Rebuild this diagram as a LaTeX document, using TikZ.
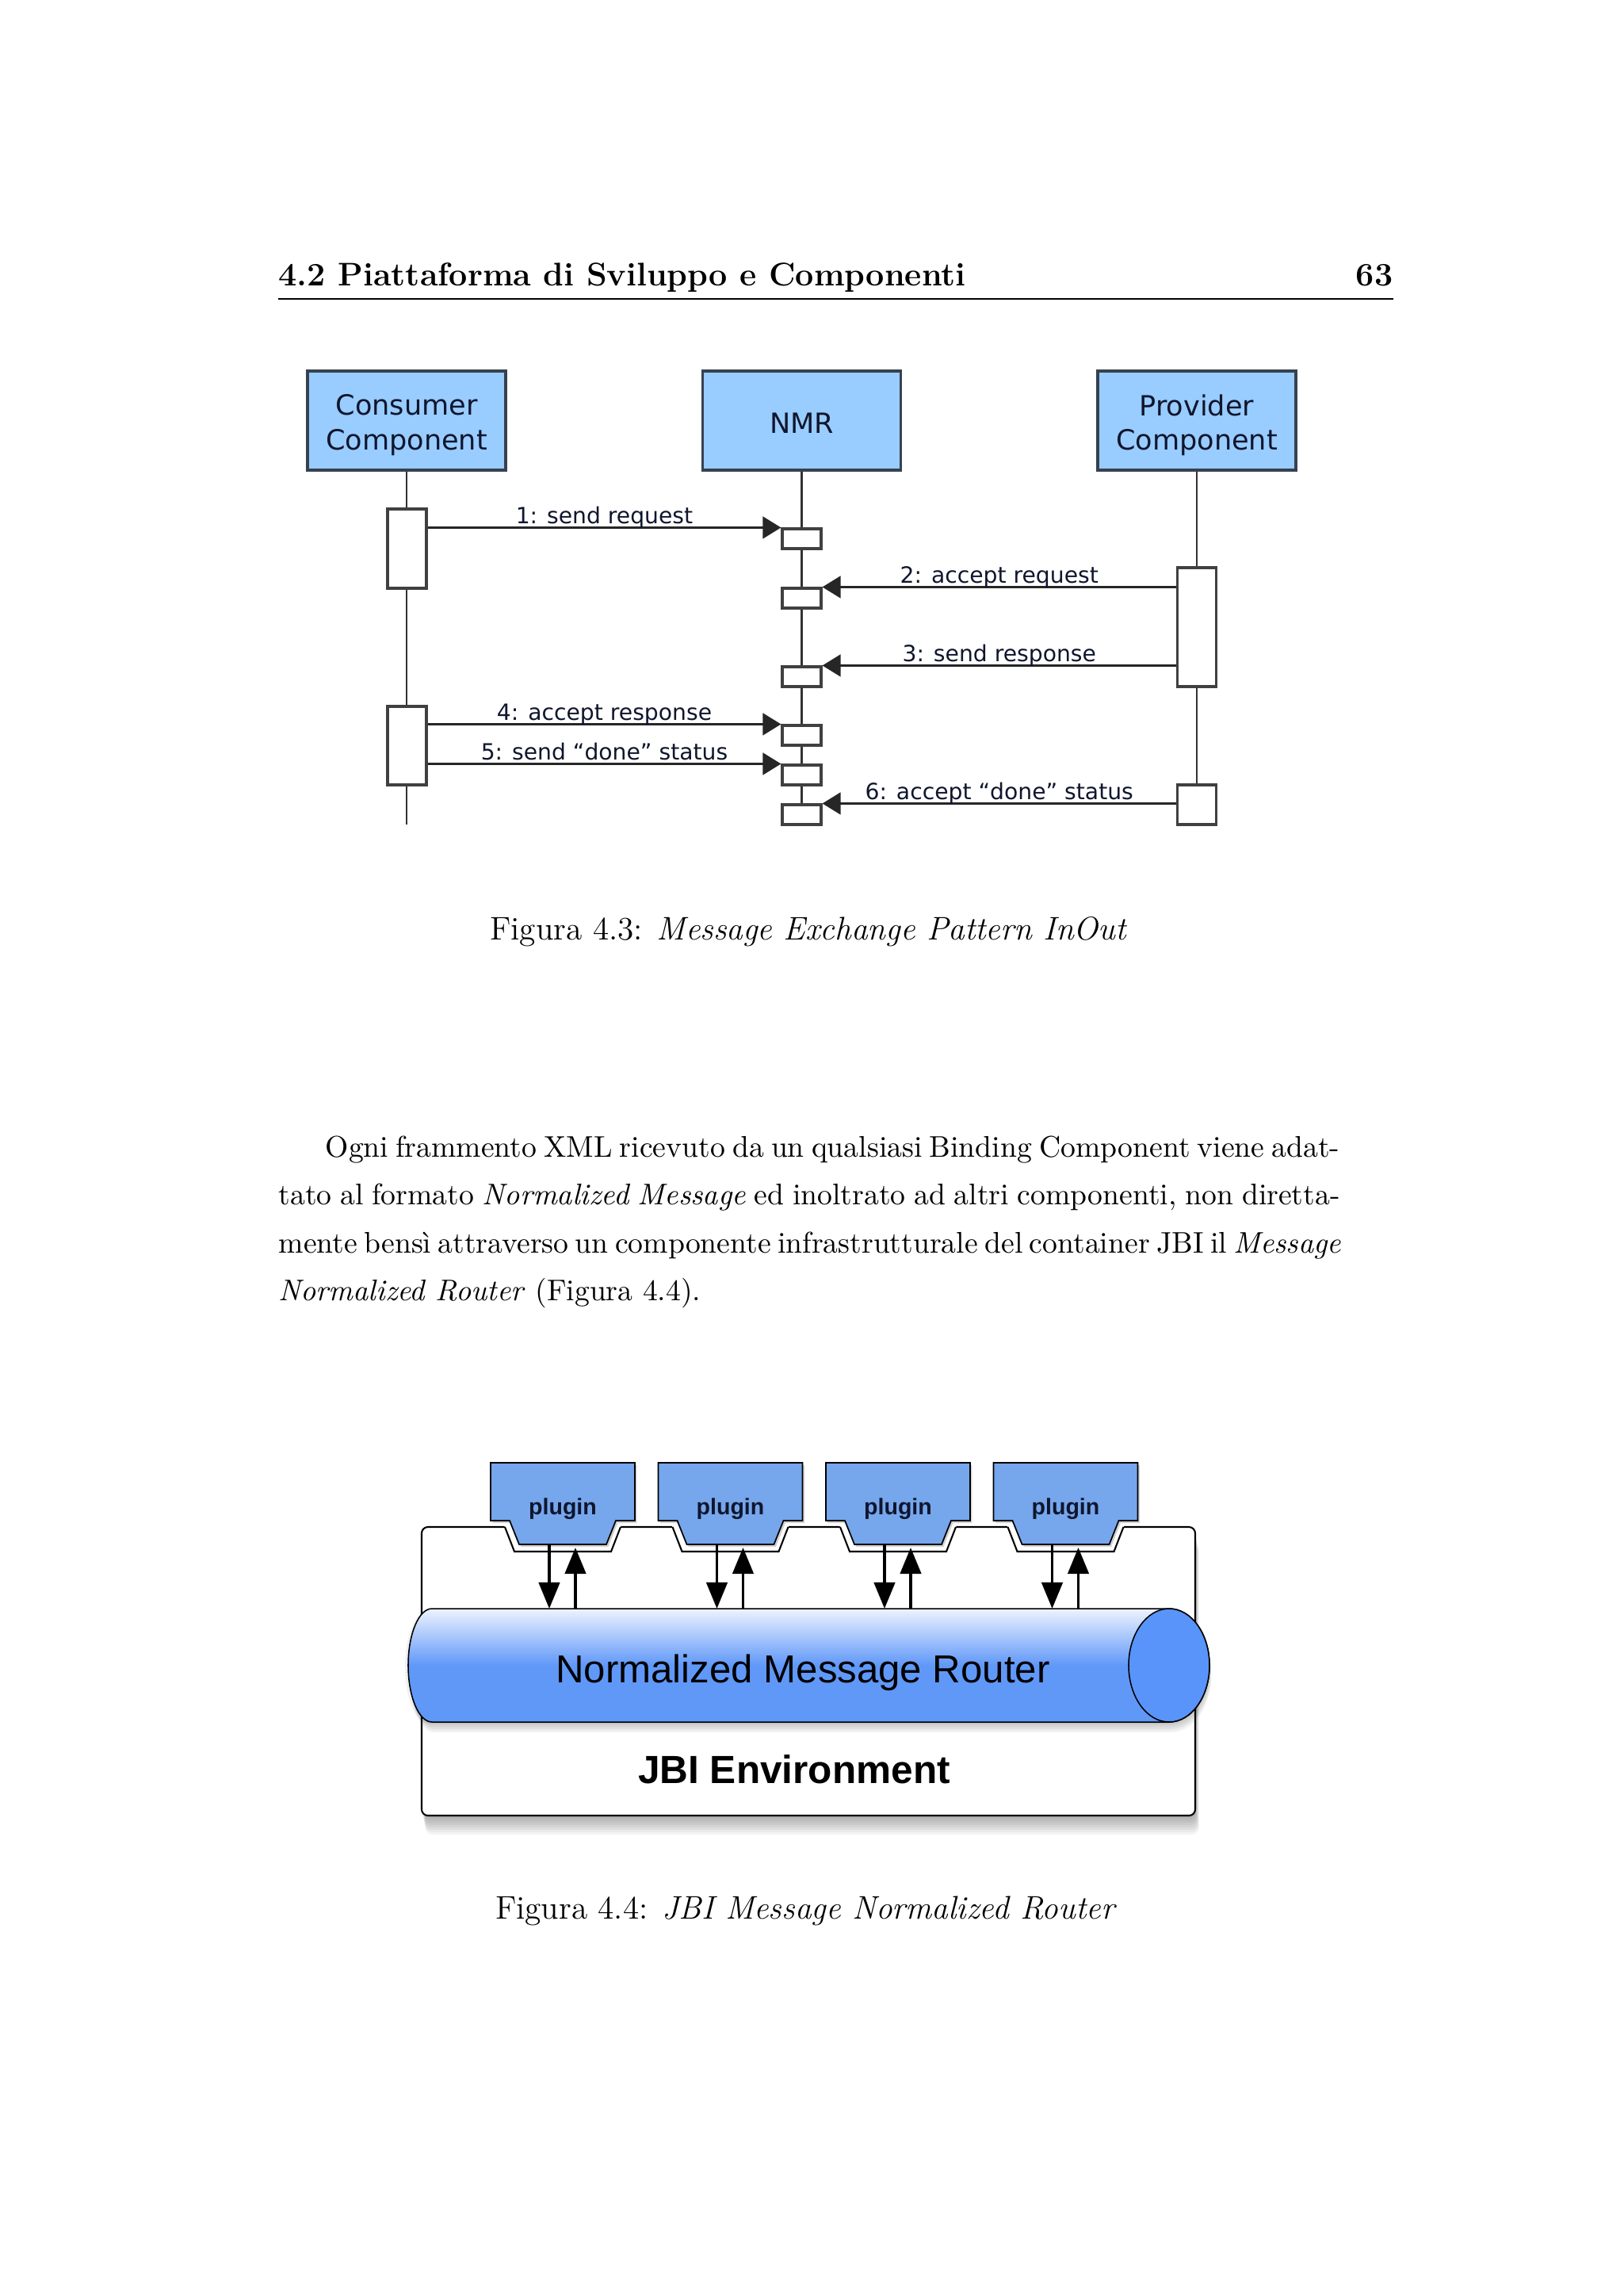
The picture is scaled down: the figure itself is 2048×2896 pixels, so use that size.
\documentclass[tikz,border=0pt]{standalone}
\usepackage{fontspec}
\newfontfamily\verd{DejaVu Sans}
\newfontfamily\helv{Liberation Sans}
\usetikzlibrary{arrows.meta,shadows,fit}
\definecolor{hdrblue}{RGB}{153,204,255}
\definecolor{hdrline}{RGB}{55,65,80}
\definecolor{txtnavy}{RGB}{15,22,45}
\definecolor{plugblue}{RGB}{118,166,236}
\definecolor{nmrblue}{RGB}{96,152,248}
\definecolor{nmrlight}{RGB}{238,243,255}
\definecolor{endblue}{RGB}{88,148,250}
\newcommand\hdrfont{\verd\fontsize{10.2}{12.6}\selectfont}
\newcommand\lblfont{\verd\fontsize{8.2}{10}\selectfont}
\newcommand\bodyfont{\fontsize{10.95}{13.6}\selectfont}
\newcommand\capfont{\fontsize{12}{14.5}\selectfont}
\begin{document}
\begin{tikzpicture}[x=0.29066pt,y=-0.29066pt,
  hdrbox/.style={draw=hdrline, line width=0.9pt, fill=hdrblue, inner sep=0pt},
  hdrtxt/.style={text=txtnavy, font=\hdrfont, align=center, inner sep=0pt},
  actbox/.style={draw=black!75, line width=0.9pt, fill=white, inner sep=0pt},
  life/.style={draw=black!80, line width=0.6pt},
  msg/.style={draw=black!85, line width=0.95pt, -{Triangle[length=6.7pt,width=8pt]}},
  lbl/.style={font=\lblfont, text=txtnavy, anchor=base, inner sep=0pt, yshift=1.4pt},
  bodytxt/.style={anchor=base west, inner sep=0pt, font=\bodyfont},
  captxt/.style={anchor=base, inner sep=0pt, font=\capfont},
  plugshape/.style={fill=plugblue, draw=black, line width=0.5pt, drop shadow={shadow xshift=0.7pt, shadow yshift=-0.9pt, opacity=0.35}},
  plugarrow/.style={line width=1.15pt, -{Triangle[length=9.6pt,width=7.6pt]}},
  cylpath/.style={insert path={(545,2029) -- (1475,2029) arc[start angle=-90, end angle=90, x radius=51, y radius=71.5] -- (545,2172) arc[start angle=90, end angle=270, x radius=30, y radius=71.5] -- cycle}}
]
\useasboundingbox[fill=white] (0,0) rectangle (2048,2896);

% ---------- running header ----------
\node[anchor=base west, inner sep=0pt, font=\capfont\bfseries] (hdl) at (351,360) {4.2 Piattaforma di Sviluppo e Componenti};
\node[anchor=base east, inner sep=0pt, font=\capfont\bfseries] (hdr) at (1758,360) {63};
\coordinate (rl) at (351,377);
\coordinate (rr) at (1758,377);
\draw[line width=0.4pt] (rl) -- (rr);

% ---------- sequence diagram ----------
\node[hdrbox, fit={(388,468)(638,593)}] (cons) {};
\node[hdrbox, fit={(886.5,468)(1136.5,593)}] (nmr) {};
\node[hdrbox, fit={(1385,468)(1635,593)}] (prov) {};
\node[hdrtxt] (consT) at (513,536) {Consumer\\Component};
\node[hdrtxt] (nmrT) at (1011.5,534) {NMR};
\node[hdrtxt] (provT) at (1510,536) {Provider\\Component};

\coordinate (consend) at (513,1040);
\coordinate (nmrend) at (1011.5,1040);
\coordinate (provend) at (1510,1040);
\draw[life] (cons.south) -- (consend);
\draw[life] (nmr.south) -- (nmrend);
\draw[life] (prov.south) -- (provend);

\node[actbox, fit={(489,642)(538,742)}] (c1) {};
\node[actbox, fit={(489,891)(538,990)}] (c2) {};
\node[actbox, fit={(987,667)(1036,692)}] (n1) {};
\node[actbox, fit={(987,742)(1036,767)}] (n2) {};
\node[actbox, fit={(987,841)(1036,866)}] (n3) {};
\node[actbox, fit={(987,915)(1036,940)}] (n4) {};
\node[actbox, fit={(987,965)(1036,990)}] (n5) {};
\node[actbox, fit={(987,1015)(1036,1040)}] (n6) {};
\node[actbox, fit={(1485.5,716)(1534.5,866)}] (p1) {};
\node[actbox, fit={(1485.5,990)(1534.5,1040)}] (p2) {};

\draw[msg] (c1.east |- n1.north) -- node[lbl] {1: send request} (n1.north west);
\draw[msg] (p1.west |- n2.north) -- node[lbl] {2: accept request} (n2.north east);
\draw[msg] (p1.west |- n3.north) -- node[lbl] {3: send response} (n3.north east);
\draw[msg] (c2.east |- n4.north) -- node[lbl] {4: accept response} (n4.north west);
\draw[msg] (c2.east |- n5.north) -- node[lbl] {5: send “done” status} (n5.north west);
\draw[msg] (p2.west |- n6.north) -- node[lbl] {6: accept “done” status} (n6.north east);

\node[captxt] (cap1) at (1020.5,1185) {Figura 4.3: \textit{Message Exchange Pattern InOut}};

% ---------- body text ----------
\node[bodytxt] (l1) at (410,1459) {\makebox[372pt][s]{Ogni frammento XML ricevuto da un qualsiasi Binding Component viene adat-}};
\node[bodytxt] (l2) at (351,1519.5) {\makebox[389.2pt][s]{tato al formato \textit{Normalized Message} ed inoltrato ad altri componenti, non diretta-}};
\node[bodytxt] (l3) at (351,1580) {\makebox[389.2pt][s]{mente bensì attraverso un componente infrastrutturale del container JBI il \textit{Message}}};
\node[bodytxt] (l4) at (351,1640.5) {\textit{Normalized Router} (Figura 4.4).};

% ---------- JBI figure ----------
\foreach \i in {1,...,8}
  \fill[black, opacity=0.045, rounded corners=2.5pt] ({532+0.6*\i},{1926+3*\i}) rectangle ({1508+0.6*\i},{2290+3*\i});
\node[fit={(532,1926)(1508,2290)}, inner sep=0pt, draw=black, line width=0.6pt, fill=white, rounded corners=2.3pt] (jbi) {};

\foreach \i in {1,...,6}
  \fill[black, opacity=0.04, shift={({0.4*\i},{2.2*\i})}, cylpath];
\fill[black, opacity=0.06, shift={(-4,2)}, cylpath];
\draw[draw=black, line width=0.45pt, top color=nmrlight, bottom color=nmrblue, middle color=nmrblue, cylpath];
\draw[draw=black, line width=0.45pt, fill=endblue] (1475,2100.5) ellipse [x radius=51, y radius=71.5];
\node[anchor=base, inner sep=0pt, font=\helv\fontsize{14.3}{17}\selectfont] (nmrlabel) at (1013,2122) {Normalized Message Router};
\node[anchor=base, inner sep=0pt, font=\helv\bfseries\fontsize{14.4}{17}\selectfont] (jbilabel) at (1002,2249) {JBI Environment};

\foreach \c [count=\k] in {710,921.5,1133,1344.5} {
  \fill[white] ({\c-74.5},1922.5) -- ({\c-61},1956) -- ({\c+61},1956) -- ({\c+74.5},1922.5) -- cycle;
  \draw[line width=0.6pt] ({\c-73},1926) -- ({\c-61},1957) -- ({\c+61},1957) -- ({\c+73},1926);
  \path[plugshape] ({\c-91},1845) -- ({\c+91},1845) -- ({\c+91},1918) -- ({\c+67},1918) -- ({\c+55},1948) -- ({\c-55},1948) -- ({\c-67},1918) -- ({\c-91},1918) -- cycle;
  \node[anchor=base, inner sep=0pt, text=txtnavy, font=\helv\bfseries\fontsize{8.3}{10}\selectfont] (plug\k) at (\c,1910) {plugin};
  \coordinate (ds\k) at ({\c-17},1948);
  \coordinate (de\k) at ({\c-17},2029);
  \coordinate (us\k) at ({\c+16},2030);
  \coordinate (ue\k) at ({\c+16},1952);
  \draw[plugarrow] (ds\k) -- (de\k);
  \draw[plugarrow] (us\k) -- (ue\k);
}

\node[captxt] (cap2) at (1017,2420) {Figura 4.4: \textit{JBI Message Normalized Router}};
\end{tikzpicture}
\end{document}
